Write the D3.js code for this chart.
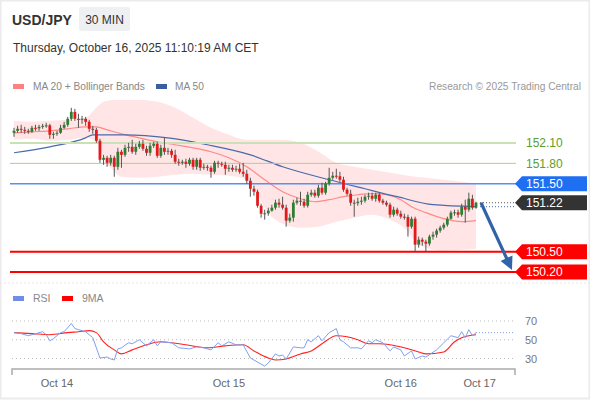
<!DOCTYPE html>
<html><head><meta charset="utf-8">
<script src="https://cdn.jsdelivr.net/npm/d3@7"></script>
<style>body{margin:0;background:#fff;} svg{display:block;font-family:"Liberation Sans",Arial,sans-serif;}</style>
</head><body><svg id="c" width="590" height="400"></svg>
<script>
// ---------- DATA ----------
const opens=[152.250,152.279,152.309,152.294,152.279,152.265,152.324,152.316,152.338,152.353,
152.360,152.221,152.235,152.250,152.324,152.368,152.456,152.559,152.456,152.441,
152.456,152.412,152.309,152.294,152.132,151.853,151.882,151.809,151.882,151.750,
151.971,151.926,152.029,152.044,151.971,152.044,152.088,152.015,151.956,152.059,
152.088,151.912,152.029,151.971,151.985,151.926,151.824,151.809,151.824,151.794,
151.853,151.750,151.853,151.735,151.750,151.735,151.676,151.809,151.794,151.779,
151.721,151.735,151.706,151.721,151.676,151.647,151.544,151.426,151.382,151.176,
151.059,151.065,151.103,151.147,151.221,151.191,151.147,150.956,151.000,151.221,
151.250,151.235,151.176,151.338,151.368,151.324,151.441,151.368,151.500,151.588,
151.618,151.610,151.559,151.412,151.353,151.221,151.215,151.235,151.250,151.309,
151.324,151.279,151.338,151.250,151.221,151.191,151.044,151.118,151.059,151.015,
151.010,150.868,150.985,150.603,150.676,150.647,150.618,150.721,150.750,150.809,
150.853,150.897,150.985,151.074,151.080,151.044,151.162,151.118,151.279,151.147];
const closes=[152.279,152.309,152.294,152.279,152.265,152.324,152.316,152.338,152.353,152.360,
152.221,152.235,152.250,152.324,152.368,152.456,152.559,152.456,152.441,152.456,
152.412,152.309,152.294,152.132,151.853,151.882,151.809,151.882,151.750,151.971,
151.926,152.029,152.044,151.971,152.044,152.088,152.015,151.956,152.059,152.088,
151.912,152.029,151.971,151.985,151.926,151.824,151.809,151.824,151.794,151.853,
151.750,151.853,151.735,151.750,151.735,151.676,151.809,151.794,151.779,151.721,
151.735,151.706,151.721,151.676,151.647,151.544,151.426,151.382,151.176,151.059,
151.065,151.103,151.147,151.221,151.191,151.147,150.956,151.000,151.221,151.250,
151.235,151.176,151.338,151.368,151.324,151.441,151.368,151.500,151.588,151.618,
151.610,151.559,151.412,151.353,151.221,151.215,151.235,151.250,151.309,151.324,
151.279,151.338,151.250,151.221,151.191,151.044,151.118,151.059,151.015,151.010,
150.868,150.985,150.603,150.676,150.647,150.618,150.721,150.750,150.809,150.853,
150.897,150.985,151.074,151.080,151.044,151.162,151.118,151.279,151.147,151.221];
const highs=[152.324,152.353,152.368,152.338,152.309,152.353,152.368,152.368,152.382,152.397,
152.382,152.265,152.279,152.368,152.412,152.485,152.618,152.603,152.529,152.500,
152.485,152.441,152.353,152.324,152.162,151.926,151.912,151.926,151.912,152.029,
152.000,152.074,152.103,152.147,152.088,152.132,152.147,152.059,152.103,152.118,
152.118,152.074,152.176,152.029,152.015,152.000,151.868,151.853,151.868,151.882,
151.882,151.882,151.882,151.794,151.779,151.765,151.838,151.838,151.824,151.824,
151.779,151.779,151.765,151.794,151.809,151.706,151.588,151.471,151.412,151.206,
151.118,151.147,151.191,151.265,151.279,151.309,151.191,151.059,151.265,151.294,
151.382,151.279,151.382,151.412,151.412,151.485,151.515,151.529,151.735,151.676,
151.721,151.676,151.603,151.441,151.412,151.265,151.294,151.309,151.338,151.368,
151.368,151.368,151.368,151.279,151.250,151.221,151.162,151.147,151.103,151.059,
151.044,151.015,151.015,150.721,150.706,150.676,150.750,150.794,150.838,150.882,
150.926,151.015,151.103,151.118,151.118,151.206,151.265,151.368,151.338,151.235];
const lows=[152.191,152.250,152.250,152.235,152.235,152.250,152.279,152.279,152.309,152.324,
152.162,152.162,152.206,152.235,152.309,152.338,152.426,152.426,152.324,152.382,
152.353,152.265,152.235,152.103,151.809,151.779,151.750,151.765,151.603,151.706,
151.735,151.897,151.971,151.941,151.926,152.015,151.985,151.912,151.912,152.029,
151.882,151.882,151.926,151.926,151.882,151.794,151.765,151.779,151.735,151.765,
151.706,151.706,151.691,151.706,151.691,151.588,151.647,151.735,151.750,151.632,
151.676,151.676,151.676,151.647,151.603,151.500,151.309,151.324,151.147,151.000,
150.971,151.029,151.088,151.118,151.147,151.118,150.868,150.926,150.941,151.191,
151.176,151.147,151.150,151.309,151.294,151.294,151.338,151.338,151.471,151.559,
151.574,151.529,151.382,151.324,151.176,151.015,151.176,151.191,151.221,151.265,
151.250,151.235,151.221,151.191,151.162,151.000,151.015,151.029,150.985,150.971,
150.721,150.838,150.500,150.559,150.588,150.500,150.588,150.676,150.706,150.779,
150.824,150.868,150.971,151.029,151.000,151.015,150.926,151.088,151.118,151.132];

const bandIdx=[0,5,10,15,20,23,25,28,30,35,40,45,50,55,60,65,68,70,75,80,85,90,95,100,105,110,112,115,120,125,129];
const bandUpper=[152.426,152.412,152.426,152.441,152.471,152.618,152.706,152.735,152.735,152.735,152.706,152.618,152.471,152.324,152.221,152.147,152.147,152.147,152.147,152.103,151.971,151.809,151.750,151.706,151.662,151.618,151.603,151.588,151.559,151.529,151.500];
const bandLower=[152.147,152.162,152.132,152.147,152.176,152.118,151.882,151.676,151.603,151.588,151.603,151.632,151.647,151.632,151.618,151.559,151.338,151.147,150.912,150.853,150.868,150.941,151.000,151.044,150.971,150.794,150.647,150.559,150.515,150.529,150.544];
const ma20Idx=[0,5,10,15,20,23,26,30,35,40,45,50,55,60,65,70,75,80,84,88,92,96,100,104,108,111,115,120,125,129];
const ma20=[152.250,152.265,152.279,152.309,152.338,152.338,152.294,152.235,152.176,152.118,152.074,152.029,151.971,151.882,151.750,151.559,151.382,151.279,151.235,151.265,151.309,151.338,151.353,151.338,151.265,151.162,151.074,150.985,150.941,150.956];
const ma50Idx=[0,10,20,22,31,43,54,66,75,88,98,107,117,129];
const ma50=[151.956,152.044,152.176,152.221,152.221,152.176,152.074,151.926,151.750,151.559,151.426,151.309,151.191,151.162];

const rsiIdx=[0,2,4,5,8,9,10,11,13,14,16,17,19,20,22,24,26,27,28,29,30,32,33,35,37,39,40,41,44,46,49,51,53,55,57,58,60,62,64,66,70,71,73,74,75,76,78,80,81,82,83,85,86,88,90,91,92,94,96,97,99,100,101,103,105,106,108,109,111,112,114,115,118,120,122,124,125,126,127,128,129];
const rsiVal=[57.6,56.5,54.3,55.4,58.6,55.4,48.9,51.1,57.6,58.6,67.3,61.9,59.7,58.6,52.2,30.5,31.6,29.5,28.4,40.3,41.4,46.8,45.7,50,43.5,50,43.5,47.8,46.8,41.4,40.3,42.4,41.4,39.2,46.8,43.5,47.8,44.6,44.6,30.5,21.9,25.1,34.9,32.7,33.8,29.5,42.4,41.4,41.4,50,47.8,54.3,48.9,57.6,61.9,50,47.8,41.4,41.4,40.3,48.9,46.8,50,46.8,38.1,42.4,39.2,32.7,38.1,29.5,32.7,31.6,39.2,46.8,54.3,52.2,58.6,52.2,60.8,54.3,57.6];
const maRsiIdx=[0,5,10,15,18,21,23,25,28,30,33,37,41,44,48,54,59,64,67,71,73,76,80,83,86,90,93,96,99,102,105,109,113,115,120,123,125,129];
const maRsiVal=[57.6,56.5,55.4,57.6,58.6,59.7,57.6,47.8,39.2,34.9,39.2,44.6,47.8,46.8,44.6,41.4,43.5,44.6,38.1,30.5,28.4,29.5,34.9,38.1,45.7,54.3,53.2,50,45.7,45.7,44.6,41.4,37.0,34.9,37.0,47.8,52.2,55.4];
const rsiTicks=[70,50,30];

const levels=[152.10,151.80,151.50,150.50,150.20];
const lastPrice=151.22;
const dateTicks=[12,60,108,130];
const dateLabels=["Oct 14","Oct 15","Oct 16","Oct 17"];

// ---------- CHART ----------
const svg=d3.select("#c");
const x=d3.scaleLinear().domain([0,129]).range([14,476]);
const y=d3.scaleLinear().domain([150.2,152.1]).range([272,143]);
const yr=d3.scaleLinear().domain([30,70]).range([358.5,321]);

// frame
svg.append("rect").attr("x",0.5).attr("y",0.5).attr("width",589).attr("height",398).attr("fill","#fff").attr("stroke","#ebebeb").attr("stroke-width",2);

// header
svg.append("text").attr("x",12).attr("y",25).attr("font-size",14).attr("font-weight","bold").attr("fill","#333").text("USD/JPY");
svg.append("rect").attr("x",79).attr("y",7).attr("width",51).attr("height",24).attr("rx",2).attr("fill","#eef0f2");
svg.append("text").attr("x",104.5).attr("y",24).attr("text-anchor","middle").attr("font-size",12).attr("fill","#333").text("30 MIN");
svg.append("text").attr("x",13).attr("y",52).attr("font-size",12).attr("fill","#333").text("Thursday, October 16, 2025 11:10:19 AM CET");

// legend
svg.append("rect").attr("x",13).attr("y",84).attr("width",11).attr("height",5).attr("fill","#ff8080");
svg.append("text").attr("x",33).attr("y",90).attr("font-size",10.2).attr("fill","#888").text("MA 20 + Bollinger Bands");
svg.append("rect").attr("x",156).attr("y",84).attr("width",11).attr("height",5).attr("fill","#3a5fa0");
svg.append("text").attr("x",175).attr("y",90).attr("font-size",10.2).attr("fill","#888").text("MA 50");
svg.append("text").attr("x",581).attr("y",90).attr("text-anchor","end").attr("font-size",10.2).attr("fill","#999").text("Research \u00a9 2025 Trading Central");

// bollinger band
const band=bandIdx.map((d,i)=>({i:d,u:bandUpper[i],l:bandLower[i]}));
svg.append("path").datum(band).attr("fill","#ffe5e5").attr("d",
  d3.area().x(d=>x(d.i)).y0(d=>y(d.l)).y1(d=>y(d.u)).curve(d3.curveMonotoneX));

// MA lines
svg.append("path").datum(ma20Idx.map((d,i)=>[d,ma20[i]])).attr("fill","none").attr("stroke","#ff8a8a").attr("stroke-width",1.2)
  .attr("d",d3.line().x(d=>x(d[0])).y(d=>y(d[1])).curve(d3.curveMonotoneX));
svg.append("path").datum(ma50Idx.map((d,i)=>[d,ma50[i]])).attr("fill","none").attr("stroke","#4a6aaa").attr("stroke-width",1.2)
  .attr("d",d3.line().x(d=>x(d[0])).y(d=>y(d[1])).curve(d3.curveMonotoneX));

// level lines
const lvlStyle={"152.1":["#cae1b6",2],"151.8":["#a9d18e",1],"151.5":["#5b8ef0",1.5],"150.5":["#ff0000",2],"150.2":["#ff0000",2]};
levels.forEach(v=>{
  const s=lvlStyle[String(v)];
  svg.append("line").attr("x1",10).attr("x2",516).attr("y1",y(v)).attr("y2",y(v)).attr("stroke",s[0]).attr("stroke-width",s[1]);
});

// candles
const idx=d3.range(closes.length);
const cg=svg.append("g");
cg.selectAll("line.w").data(idx).join("line").attr("x1",i=>x(i)).attr("x2",i=>x(i))
  .attr("y1",i=>y(highs[i])).attr("y2",i=>y(lows[i])).attr("stroke","#555").attr("stroke-width",1);
cg.selectAll("rect.b").data(idx).join("rect").attr("x",i=>x(i)-1.4).attr("width",2.8)
  .attr("y",i=>y(Math.max(opens[i],closes[i])))
  .attr("height",i=>Math.max(1,Math.abs(y(opens[i])-y(closes[i]))))
  .attr("fill",i=>closes[i]>=opens[i]?"#2f7d32":"#e3191c");

// last price dotted + MA50 dotted
const lastI=closes.length-1;
svg.append("line").attr("x1",x(lastI)+4).attr("x2",516).attr("y1",y(lastPrice)).attr("y2",y(lastPrice)).attr("stroke","#555").attr("stroke-dasharray","1,2");
svg.append("line").attr("x1",x(lastI)+4).attr("x2",516).attr("y1",y(ma50[ma50.length-1])).attr("y2",y(ma50[ma50.length-1])).attr("stroke","#4a6aaa").attr("stroke-dasharray","1,2");

// tags
function tag(v,fill,label,txtFill){
  const yy=y(v);
  if(fill){
    svg.append("path").attr("d",`M515,${yy} L522,${yy-7.5} L587,${yy-7.5} L587,${yy+7.5} L522,${yy+7.5} Z`).attr("fill",fill);
  }
  svg.append("text").attr("x",526).attr("y",yy+4.2).attr("font-size",12).attr("fill",txtFill).text(label);
}
tag(152.10,null,"152.10","#5c9e2c");
tag(151.80,null,"151.80","#5c9e2c");
tag(151.50,"#1f6ff2","151.50","#fff");
tag(lastPrice,"#333333","151.22","#fff");
tag(150.50,"#ff0000","150.50","#fff");
tag(150.20,"#ff0000","150.20","#fff");

// arrow
const ax1=x(lastI)+5, ay1=y(lastPrice), ax2=512, ay2=y(150.20)-2;
const ang=Math.atan2(ay2-ay1,ax2-ax1);
svg.append("line").attr("x1",ax1).attr("y1",ay1).attr("x2",ax2-8*Math.cos(ang)).attr("y2",ay2-8*Math.sin(ang)).attr("stroke","#3163a8").attr("stroke-width",3.2);
const hl=13, hw=6.5;
const bx=ax2-hl*Math.cos(ang), by=ay2-hl*Math.sin(ang);
svg.append("path").attr("fill","#3163a8").attr("d",
  `M${ax2},${ay2} L${bx+hw*Math.sin(ang)},${by-hw*Math.cos(ang)} L${bx-hw*Math.sin(ang)},${by+hw*Math.cos(ang)} Z`);

// separator
svg.append("line").attr("x1",0).attr("x2",590).attr("y1",283).attr("y2",283).attr("stroke","#e6e6e6").attr("stroke-dasharray","2,2");

// RSI legend
svg.append("rect").attr("x",13).attr("y",296).attr("width",11).attr("height",5).attr("fill","#6d8fe8");
svg.append("text").attr("x",33).attr("y",302).attr("font-size",10.5).attr("fill","#888").text("RSI");
svg.append("rect").attr("x",62).attr("y",296).attr("width",11).attr("height",5).attr("fill","#ff0000");
svg.append("text").attr("x",82).attr("y",302).attr("font-size",10.5).attr("fill","#888").text("9MA");

// RSI grid
rsiTicks.forEach(t=>{
  svg.append("line").attr("x1",12).attr("x2",515).attr("y1",yr(t)).attr("y2",yr(t)).attr("stroke","#bbb").attr("stroke-dasharray","1,3");
  svg.append("text").attr("x",525).attr("y",yr(t)+4).attr("font-size",11).attr("fill","#777").text(t);
});
svg.append("path").datum(maRsiIdx.map((d,i)=>[d,maRsiVal[i]])).attr("fill","none").attr("stroke","#ff2020").attr("stroke-width",1.1)
  .attr("d",d3.line().x(d=>x(d[0])).y(d=>yr(d[1])).curve(d3.curveMonotoneX));
svg.append("path").datum(rsiIdx.map((d,i)=>[d,rsiVal[i]])).attr("fill","none").attr("stroke","#7f9ff0").attr("stroke-width",1)
  .attr("d",d3.line().x(d=>x(d[0])).y(d=>yr(d[1])));
const lastRsi=rsiVal[rsiVal.length-1];
svg.append("line").attr("x1",x(rsiIdx[rsiIdx.length-1])).attr("x2",514).attr("y1",yr(lastRsi)).attr("y2",yr(lastRsi)).attr("stroke","#7f9ff0").attr("stroke-dasharray","1,2");

// x axis
const xa=svg.append("g");
xa.append("path").attr("d","M12,375 L12,369 L515,369 L515,375").attr("fill","none").attr("stroke","#aaa").attr("stroke-width",1.5);
dateTicks.forEach((t,k)=>{
  xa.append("text").attr("x",x(t)).attr("y",387).attr("text-anchor","middle").attr("font-size",11).attr("fill","#666").text(dateLabels[k]);
});
</script></body></html>
